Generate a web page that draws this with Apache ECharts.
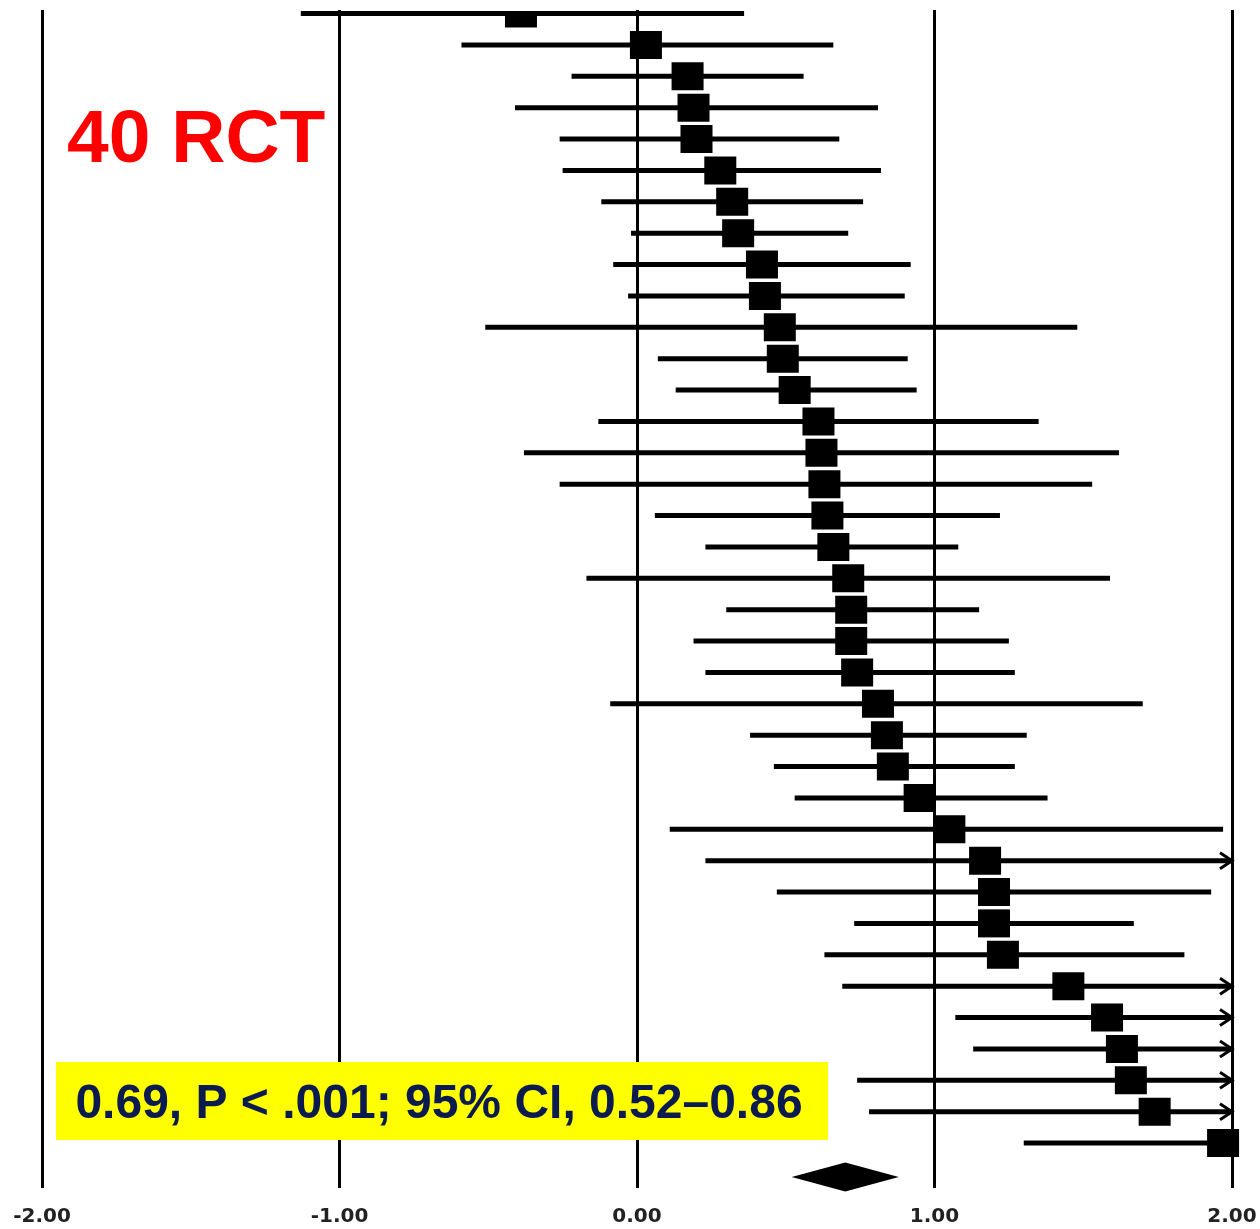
<!DOCTYPE html>
<html>
<head>
<meta charset="utf-8">
<script src="https://cdn.jsdelivr.net/npm/echarts@6/dist/echarts.min.js"></script>
<style>
  html, body { margin: 0; padding: 0; background: #fff; }
  #forest-main { width: 1260px; height: 1229px; }
</style>
</head>
<body>
<div id="forest-main"></div>
<script>
// study rows, top to bottom (row 1 is partly cut off at the top edge)
var rows = [1, 2, 3, 4, 5, 6, 7, 8, 9, 10, 11, 12, 13, 14, 15, 16, 17, 18, 19,
    20, 21, 22, 23, 24, 25, 26, 27, 28, 29, 30, 31, 32, 33, 34, 35, 36, 37];
var estimate = [-0.39, 0.03, 0.17, 0.19, 0.20, 0.28, 0.32, 0.34, 0.42, 0.43,
    0.48, 0.49, 0.53, 0.61, 0.62, 0.63, 0.64, 0.66, 0.71, 0.72, 0.72, 0.74,
    0.81, 0.84, 0.86, 0.95, 1.05, 1.17, 1.20, 1.20, 1.23, 1.45, 1.58, 1.63,
    1.66, 1.74, 1.97];
var ciLow = [-1.13, -0.59, -0.22, -0.41, -0.26, -0.25, -0.12, -0.02, -0.08, -0.03,
    -0.51, 0.07, 0.13, -0.13, -0.38, -0.26, 0.06, 0.23, -0.17, 0.30, 0.19, 0.23,
    -0.09, 0.38, 0.46, 0.53, 0.11, 0.23, 0.47, 0.73, 0.63, 0.69, 1.07, 1.13,
    0.74, 0.78, 1.30];
var ciHigh = [0.36, 0.66, 0.56, 0.81, 0.68, 0.82, 0.76, 0.71, 0.92, 0.90,
    1.48, 0.91, 0.94, 1.35, 1.62, 1.53, 1.22, 1.08, 1.59, 1.15, 1.25, 1.27,
    1.70, 1.31, 1.27, 1.38, 1.97, 2.00, 1.93, 1.67, 1.84, 2.00, 2.00, 2.00,
    2.00, 2.00, 2.00];
// 1 = interval runs past the axis end (drawn with an arrow)
var truncated = [0, 0, 0, 0, 0, 0, 0, 0, 0, 0, 0, 0, 0, 0, 0, 0, 0, 0, 0,
    0, 0, 0, 0, 0, 0, 0, 0, 1, 0, 0, 0, 1, 1, 1, 1, 1, 0];

// pooled effect (diamond)
var pooledRow = 38.08;
var pooled = [0.52, 0.70, 0.88];

var xTicks = [-2, -1, 0, 1, 2];

var myChart = echarts.init(document.getElementById('forest-main'));

var studyData = rows.map(function (r, i) {
    return [estimate[i], r, ciLow[i], ciHigh[i], truncated[i]];
});

var option = {
    backgroundColor: '#fff',
    animation: false,
    grid: { left: 42, right: 28, top: 10, bottom: 41 },
    xAxis: {
        type: 'value',
        min: xTicks[0],
        max: xTicks[xTicks.length - 1],
        interval: 1,
        axisLine: { show: false },
        axisTick: { show: false },
        axisLabel: {
            margin: 19,
            fontFamily: 'DejaVu Sans',
            fontWeight: 'bold',
            fontSize: 20,
            color: '#222',
            formatter: function (v) { return v.toFixed(2); }
        },
        splitLine: {
            show: true,
            showMinLine: true,
            showMaxLine: true,
            lineStyle: { color: '#000', width: 3 }
        }
    },
    yAxis: {
        type: 'value',
        inverse: true,
        min: 0.888,
        max: 38.434,
        show: false
    },
    graphic: [
        {
            type: 'text',
            z: 100,
            left: 67,
            top: 104,
            style: {
                text: '40 RCT',
                fill: '#ff0000',
                font: 'bold 75px "Liberation Sans", Arial, sans-serif'
            }
        },
        {
            type: 'rect',
            z: 100,
            shape: { x: 56, y: 1062, width: 772, height: 78 },
            style: { fill: '#ffff00' }
        },
        {
            type: 'text',
            z: 101,
            x: 439,
            y: 1105,
            style: {
                text: '0.69, P < .001; 95% CI, 0.52\u20130.86',
                fill: '#0b1b4f',
                align: 'center',
                verticalAlign: 'middle',
                font: 'bold 48px "Liberation Sans", Arial, sans-serif'
            }
        }
    ],
    series: [
        {
            type: 'custom',
            clip: false,
            data: studyData,
            encode: { x: [0, 2, 3], y: 1 },
            renderItem: function (params, api) {
                var top = params.coordSys.y + 2;
                var row = api.value(1);
                var c = api.coord([api.value(0), row]);
                var lo = api.coord([api.value(2), row]);
                var hi = api.coord([api.value(3), row]);
                // the first row is cut by the top edge of the plot
                var sqTop = Math.max(c[1] - 14, top);
                var children = [
                    {
                        type: 'line',
                        shape: { x1: lo[0], y1: lo[1], x2: hi[0], y2: hi[1] },
                        style: { stroke: '#000', lineWidth: 5 }
                    },
                    {
                        type: 'rect',
                        shape: { x: c[0] - 16, y: sqTop, width: 32, height: c[1] + 14 - sqTop },
                        style: { fill: '#000' }
                    }
                ];
                if (api.value(4) === 1) {
                    children.push({
                        type: 'polyline',
                        shape: { points: [[hi[0] - 12, hi[1] - 8], [hi[0], hi[1]], [hi[0] - 12, hi[1] + 8]] },
                        style: { stroke: '#000', lineWidth: 3, fill: null }
                    });
                }
                return { type: 'group', children: children };
            }
        },
        {
            type: 'custom',
            clip: false,
            data: [[pooled[1], pooledRow, pooled[0], pooled[2]]],
            encode: { x: [0, 2, 3], y: 1 },
            renderItem: function (params, api) {
                var row = api.value(1);
                var c = api.coord([api.value(0), row]);
                var lo = api.coord([api.value(2), row]);
                var hi = api.coord([api.value(3), row]);
                return {
                    type: 'polygon',
                    shape: { points: [[lo[0], c[1]], [c[0], c[1] - 14.5], [hi[0], c[1]], [c[0], c[1] + 14.5]] },
                    style: { fill: '#000' }
                };
            }
        }
    ]
};

option && myChart.setOption(option);
</script>
</body>
</html>
